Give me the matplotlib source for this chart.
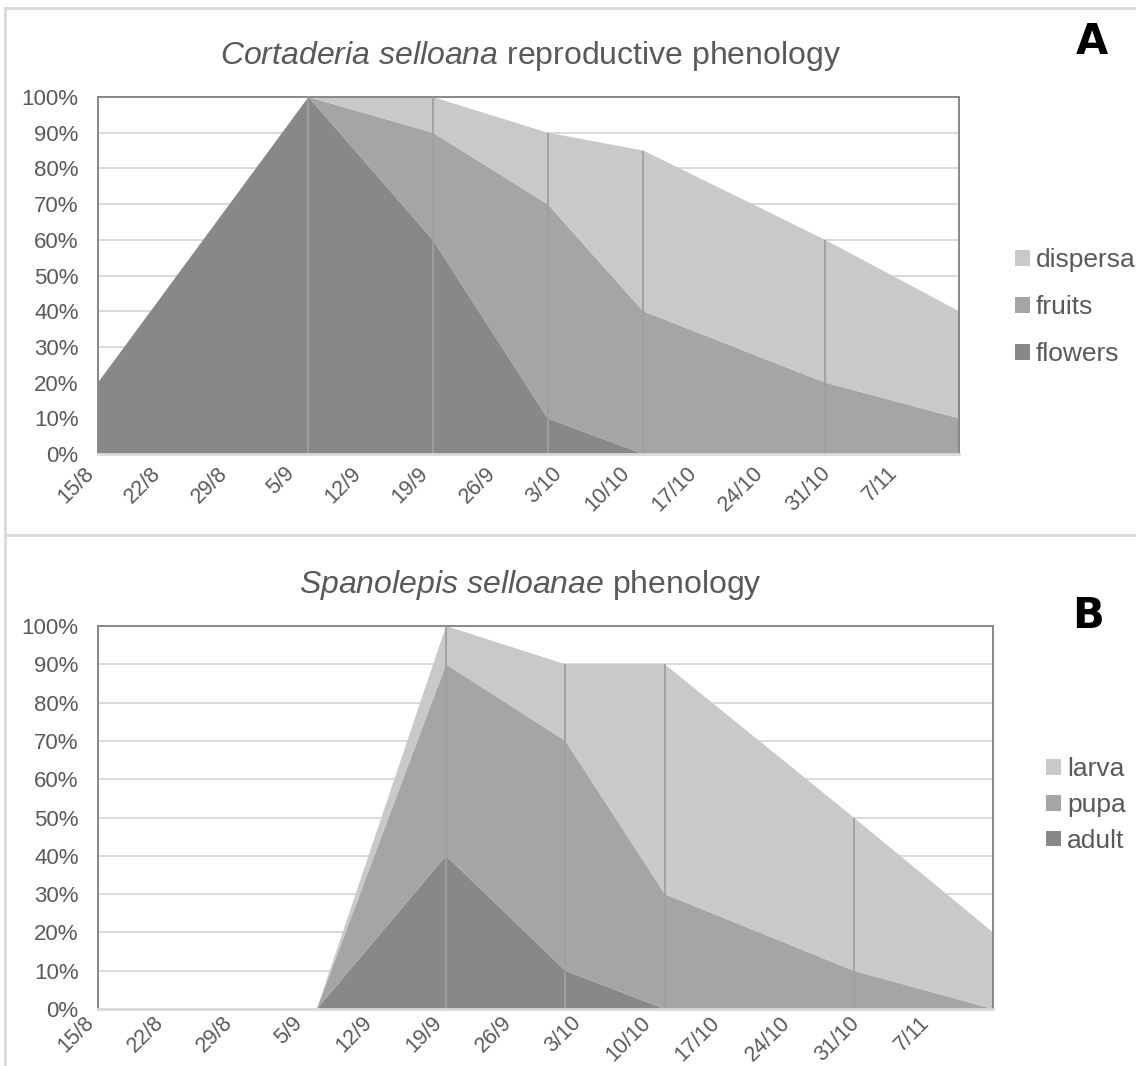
import matplotlib
matplotlib.use("Agg")
import matplotlib.pyplot as plt
import matplotlib.dates as mdates
from matplotlib.patches import Patch
from matplotlib.lines import Line2D
import numpy as np
import datetime as dt

plt.rcParams['font.family'] = ['Liberation Sans', 'DejaVu Sans']
plt.rcParams['mathtext.fontset'] = 'custom'
plt.rcParams['mathtext.it'] = 'Liberation Sans:italic'
plt.rcParams['mathtext.rm'] = 'Liberation Sans'

# ---- data ----
dates_str = ['2017-08-15', '2017-09-06', '2017-09-19', '2017-10-01',
             '2017-10-11', '2017-10-30', '2017-11-13']
tick_dates_str = ['2017-08-15', '2017-08-22', '2017-08-29', '2017-09-05',
                  '2017-09-12', '2017-09-19', '2017-09-26', '2017-10-03',
                  '2017-10-10', '2017-10-17', '2017-10-24', '2017-10-31',
                  '2017-11-07']
tick_labels = ['15/8', '22/8', '29/8', '5/9', '12/9', '19/9', '26/9', '3/10',
               '10/10', '17/10', '24/10', '31/10', '7/11']

flowers = [20, 100, 60, 10, 0, 0, 0]
fruits = [0, 0, 30, 60, 40, 20, 10]
dispersal = [0, 0, 10, 20, 45, 40, 30]

adult = [0, 0, 40, 10, 0, 0, 0]
pupa = [0, 0, 50, 60, 30, 10, 0]
larva = [0, 0, 10, 20, 60, 40, 20]

colors = ['#888888', '#a5a5a5', '#c9c9c9']   # bottom, middle, top
TXT = '#595959'

W, H = 1136, 1066
fig = plt.figure(figsize=(W / 100, H / 100), dpi=100)

dates = [dt.datetime.strptime(d, '%Y-%m-%d') for d in dates_str]
tick_dates = [dt.datetime.strptime(d, '%Y-%m-%d') for d in tick_dates_str]


def px_axes(l, t, r, b):
    return fig.add_axes([l / W, 1 - b / H, (r - l) / W, (b - t) / H])


def draw_panel(ax, series, names, legend_anchor, lspacing, xpad):
    x = mdates.date2num(dates)
    ys = np.vstack([np.array(s, dtype=float) / 100 for s in series])
    ax.stackplot(x, ys, colors=colors, linewidth=0, zorder=2)
    total = ys.sum(axis=0)
    ax.vlines(x[1:-1], 0, total[1:-1], color='#a0a0a0', lw=1.3, zorder=3)
    ax.set_xlim(x[0], x[-1])
    ax.set_ylim(0, 1)
    ax.set_yticks(np.arange(0, 1.01, 0.1))
    ax.set_yticklabels([f'{int(round(v * 100))}%' for v in np.arange(0, 1.01, 0.1)])
    for v in np.arange(0.1, 0.95, 0.1):
        ax.axhline(v, color='#d9d9d9', lw=1.4, zorder=1)
    ax.set_xticks(mdates.date2num(tick_dates))
    ax.set_xticklabels(tick_labels, rotation=45, ha='right', va='bottom',
                       rotation_mode='anchor')
    ax.tick_params(axis='y', length=0, labelsize=16, labelcolor=TXT, pad=14)
    ax.tick_params(axis='x', length=0, labelsize=15.5, labelcolor=TXT, pad=xpad)
    for s in ['top', 'left', 'right']:
        ax.spines[s].set_color('#878787')
        ax.spines[s].set_linewidth(1.4)
    ax.spines['bottom'].set_color('#d9d9d9')
    ax.spines['bottom'].set_linewidth(2)
    ax.spines['bottom'].set_zorder(4)
    handles = [Patch(facecolor=colors[i], edgecolor='none', label=names[i])
               for i in range(3)][::-1]
    ax.legend(handles=handles, loc='center left', bbox_to_anchor=legend_anchor,
              bbox_transform=fig.transFigure, frameon=False, fontsize=19,
              handlelength=0.55, handleheight=0.55, handletextpad=0.25,
              labelspacing=lspacing, borderaxespad=0, borderpad=0,
              labelcolor=TXT)


axA = px_axes(98, 97, 959, 454)
draw_panel(axA, [flowers, fruits, dispersal], ['flowers', 'fruits', 'dispersal'],
           (1015 / W, 1 - 307 / H), 0.87, 17)
axB = px_axes(98, 626, 993, 1009)
draw_panel(axB, [adult, pupa, larva], ['adult', 'pupa', 'larva'],
           (1046 / W, 1 - 805 / H), 0.45, 13)

fig.text(530 / W, 1 - 56 / H,
         r'$\mathit{Cortaderia\ selloana}$ reproductive phenology',
         ha='center', va='center', fontsize=23, color=TXT)
fig.text(530 / W, 1 - 585 / H,
         r'$\mathit{Spanolepis\ selloanae}$ phenology',
         ha='center', va='center', fontsize=23, color=TXT)

fig.text(1092 / W, 1 - 42 / H, 'A', ha='center', va='center', fontsize=30,
         fontweight='bold', family='DejaVu Sans', color='black')
fig.text(1088 / W, 1 - 616 / H, 'B', ha='center', va='center', fontsize=30,
         fontweight='bold', family='DejaVu Sans', color='black')

# chart frame lines
bc = '#d9d9d9'
fig.add_artist(Line2D([5 / W, 1], [1 - 8 / H, 1 - 8 / H], color=bc, lw=2,
                      transform=fig.transFigure))
fig.add_artist(Line2D([5 / W, 5 / W], [0, 1 - 8 / H], color=bc, lw=2,
                      transform=fig.transFigure))
fig.add_artist(Line2D([5 / W, 1], [1 - 535 / H, 1 - 535 / H], color=bc, lw=2,
                      transform=fig.transFigure))

fig.savefig('out.png', dpi=100)
